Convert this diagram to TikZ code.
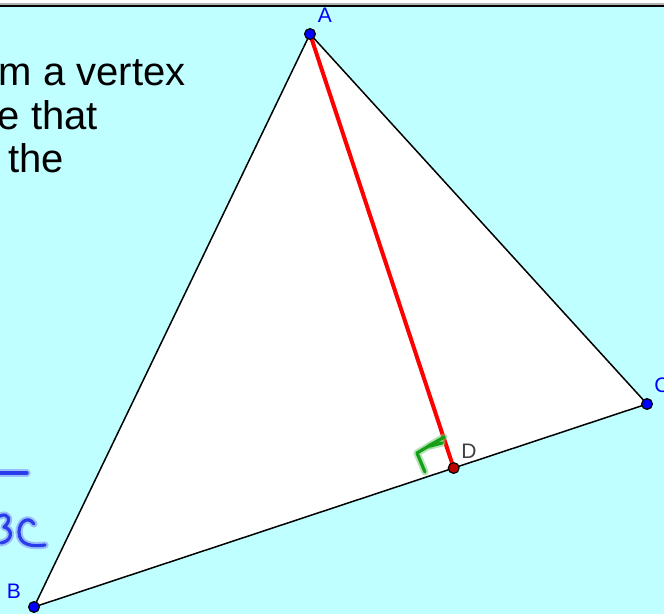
\documentclass[tikz,border=0pt]{standalone}
\usepackage{fontspec}
\setmainfont{Liberation Sans}
\usetikzlibrary{calc}
\begin{document}
\begin{tikzpicture}[
  x=0.5pt,
  y=-0.5pt,
  edge/.style={draw=black, line width=0.75pt},
  vertexpt/.style={fill=ptBlue, draw=black, line width=0.6pt},
  vlabel/.style={font=\fontsize{10.5}{12}\selectfont, text=ptBlue, inner sep=0pt},
  ink/.style={line width=1.6pt, line cap=round, line join=round},
  glow/.style={line width=3.6pt, line cap=round, line join=round, opacity=0.55},
  slide/.style={font=\fontsize{20}{23}\selectfont, anchor=base west, inner sep=0pt}
]

% Colours of the screen capture
\definecolor{bgCyan}{RGB}{191,255,255}
\definecolor{ptBlue}{RGB}{0,0,255}
\definecolor{ptRed}{RGB}{190,0,0}
\definecolor{penBlue}{RGB}{40,60,235}
\definecolor{penGreen}{RGB}{20,160,20}

\useasboundingbox (0,0) rectangle (664,614);
\clip (0,0) rectangle (664,614);

% Background and top border
\fill[white] (0,0) rectangle (664,6);
\fill[bgCyan] (0,6) rectangle (664,614);
\fill[gray!60] (0,3.5) rectangle (664,4.6);
\fill[black] (0,4.6) rectangle (664,6.6);

% Slide text, cut at the left edge
\node[slide] (t1) at (-1.5,86) {m a vertex};
\node[slide] (t2) at (-2.5,129.5) {e that};
\node[slide] (t3) at (8,173) {the};

% Handwritten marks on the left
\draw[glow, penBlue!60] (0,473) -- (27,473);
\draw[ink, penBlue] (0,473) -- (27,473);
\foreach \g/\w in {glow/penBlue!60, ink/penBlue} {
  \draw[\g, \w] (0,516) .. controls (9,512) and (12,521) .. (4,527)
    .. controls (13,529) and (13,541) .. (1,543);
  \draw[\g, \w] (34,524) .. controls (28,515) and (19,522) .. (19,532)
    .. controls (19,545) and (32,547) .. (45,545);
}

% Triangle and altitude
\coordinate (B) at (34,607);
\coordinate (C) at (647,404);
\coordinate (A) at (310,34);
\coordinate (D) at ($(B)!(A)!(C)$);
\fill[white] (A) -- (B) -- (C) -- cycle;
\draw[edge] (A) -- (B) -- (C) -- cycle;
\draw[red, line width=2pt] (A) -- (D);

% Right angle, drawn by hand
\foreach \g/\w in {glow/penGreen!55, ink/penGreen} {
  \draw[\g, \w] (444,437) -- (417,453) -- (425,472);
  \draw[\g, \w] (442,443) -- (430,446);
}

% Points and their labels
\filldraw[vertexpt] (A) circle (2.7pt);
\filldraw[vertexpt] (B) circle (2.7pt);
\filldraw[vertexpt] (C) circle (2.7pt);
\filldraw[vertexpt, fill=ptRed] (D) circle (2.7pt);

\node[vlabel] (lA) at (325,15) {A};
\node[vlabel] (lB) at (14,591) {B};
\node[vlabel, anchor=west] (lC) at (654,385) {C};
\node[vlabel, text=black!75] (lD) at (469,451) {D};

\end{tikzpicture}
\end{document}
